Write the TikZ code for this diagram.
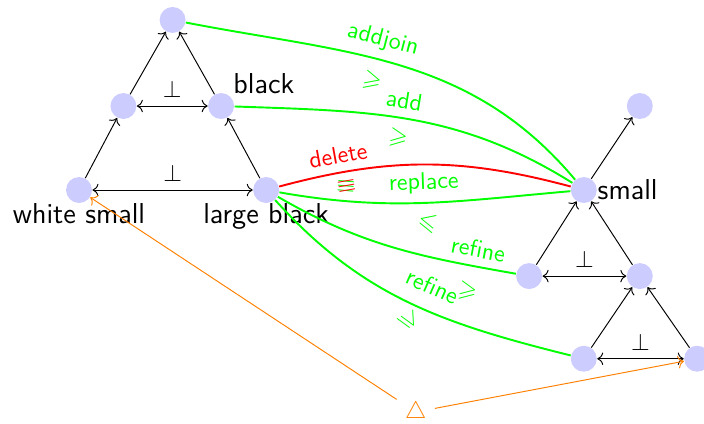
\documentclass[tikz,border=0pt]{standalone}
\usepackage{amsmath, amssymb}
\usepackage{xcolor}
\usepackage{tikz}
\usetikzlibrary{arrows.meta, positioning, calc}
\tikzset{
    elem/.style={
        circle, fill=blue!20, minimum size=0.38cm, inner sep=0pt
    },
    elem_lbl/.style={
        font=\sffamily\large, inner sep=0pt
    },
    ord_arrow/.style={
        ->, thin, draw=black
    },
    perp_arrow/.style={
        <->, thin, draw=black
    },
    op_green/.style={
        thick, draw=green
    },
    op_red/.style={
        thick, draw=red
    },
    op_lbl/.style={
        font=\sffamily, sloped
    },
    src_arrow/.style={
        ->, thin, draw=orange
    }
}

\begin{document}
\begin{tikzpicture}
    \useasboundingbox (-1.157,-3.412) rectangle (9.15,2.782);

    % Left lattice
    \node[elem, label={[elem_lbl]below:white small}] (ws) at (0, 0) {};
    \node[elem, label={[elem_lbl]below:large black}] (lb) at (2.74, 0) {};
    \node[elem] (ml) at (0.65, 1.23) {};
    \node[elem, label={[elem_lbl, inner sep=1pt]above right:black}] (mr) at (2.08, 1.23) {};
    \node[elem] (top) at (1.37, 2.49) {};

    % Right lattice
    \node[elem, label={[elem_lbl]right:small}] (sm) at (7.39, 0) {};
    \node[elem] (tr) at (8.21, 1.23) {};
    \node[elem] (rml) at (6.59, -1.26) {};
    \node[elem] (rmr) at (8.21, -1.26) {};
    \node[elem] (rbl) at (7.39, -2.47) {};
    \node[elem] (rbr) at (9.05, -2.47) {};

    % Source
    \node[text=orange] (tri) at (4.93, -3.25) {$\triangle$};

    % Order inside the left lattice
    \draw[ord_arrow] (ws) -- (ml);
    \draw[ord_arrow] (ml) -- (top);
    \draw[ord_arrow] (mr) -- (top);
    \draw[ord_arrow] (lb) -- (mr);
    \draw[perp_arrow] (ml) -- node[above] {$\bot$} (mr);
    \draw[perp_arrow] (ws) -- node[above] {$\bot$} (lb);

    % Order inside the right lattice
    \draw[ord_arrow] (sm) -- (tr);
    \draw[ord_arrow] (rml) -- (sm);
    \draw[ord_arrow] (rmr) -- (sm);
    \draw[ord_arrow] (rbl) -- (rmr);
    \draw[ord_arrow] (rbr) -- (rmr);
    \draw[perp_arrow] (rml) -- node[above] {$\bot$} (rmr);
    \draw[perp_arrow] (rbl) -- node[above] {$\bot$} (rbr);

    % Operations
    \draw[op_green] (top) to[out=-11, in=130]
        node[op_lbl, text=green, above, pos=0.44] {addjoin}
        node[op_lbl, text=green, below=2pt, pos=0.44] {$\geqslant$} (sm);
    \draw[op_green] (mr) to[out=-2, in=148]
        node[op_lbl, text=green, above, pos=0.47] {add}
        node[op_lbl, text=green, below=1pt, pos=0.47] {$\geqslant$} (sm);
    \draw[op_green] (lb) to[out=-10, in=185]
        node[op_lbl, text=green, above, pos=0.5] {replace}
        node[op_lbl, text=green, above, pos=0.21] {$\equiv$} (sm);
    \draw[op_red] (lb) to[out=15, in=165]
        node[op_lbl, text=red, above, pos=0.2] {delete}
        node[op_lbl, text=red, below, pos=0.21] {$\equiv$} (sm);
    \draw[op_green] (lb) to[out=-30, in=170]
        node[op_lbl, text=green, above=6pt, pos=0.62] {$\leqslant$}
        node[op_lbl, text=green, above, pos=0.85] {refine}
        node[op_lbl, text=green, below=3pt, pos=0.84] {$\geqslant$} (rml);
    \draw[op_green] (lb) to[out=-48, in=166]
        node[op_lbl, text=green, above=3pt, pos=0.55] {refine}
        node[op_lbl, text=green, below=1pt, pos=0.56, rotate=-38] {$\geqslant$} (rbl);

    % Sources of the two lattices
    \draw[src_arrow] (tri) -- (ws);
    \draw[src_arrow] (tri) -- (rbr);
\end{tikzpicture}
\end{document}
